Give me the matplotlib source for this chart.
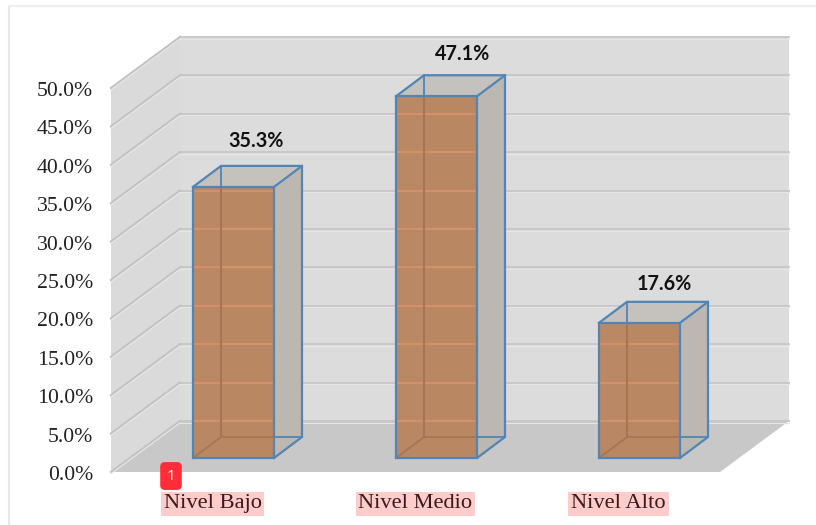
import matplotlib
matplotlib.use("Agg")
from matplotlib import pyplot as plt
from matplotlib.lines import Line2D
from matplotlib.patches import Polygon
from matplotlib.transforms import ScaledTranslation

categories = ["Nivel Bajo", "Nivel Medio", "Nivel Alto"]
values = [35.3, 47.1, 17.6]
y_ticks = [0, 5, 10, 15, 20, 25, 30, 35, 40, 45, 50]
y_labels = ["0.0%", "5.0%", "10.0%", "15.0%", "20.0%", "25.0%", "30.0%", "35.0%", "40.0%", "45.0%", "50.0%"]

W, H = 816, 525
# pixels per unit on the two axes
px_x = 203.0
px_y = 7.68


def dx(p):
    return p / px_x


def dy(p):
    return p / px_y


fig = plt.figure(figsize=(W / 100, H / 100), dpi=100)
# thin frame of the screenshot
fig.add_artist(Line2D([9 / W, 9 / W], [0, 1 - 6 / H], color="#e6e6e6", lw=1.5))
fig.add_artist(Line2D([9 / W, 1], [1 - 6 / H, 1 - 6 / H], color="#efefef", lw=1.5))

ax = fig.add_axes([111 / W, (H - 472) / H, 609 / W, 384 / H])
ax.set_xlim(-0.5, 2.5)
ax.set_ylim(0, 50)
for s in ax.spines.values():
    s.set_visible(False)
ax.patch.set_visible(False)

# depth of the box
ox, oy = dx(69), dy(51)
x0, x1 = -0.5, 2.5


def poly(pts, **kw):
    ax.add_patch(Polygon(pts, closed=True, clip_on=False, **kw))


# walls and floor
poly([(x0 + ox, oy), (x1 + ox, oy), (x1 + ox, 50 + oy), (x0 + ox, 50 + oy)], fc="#dcdcdc", ec="none", zorder=1)
poly([(x0, 0), (x0 + ox, oy), (x0 + ox, 50 + oy), (x0, 50)], fc="#dadada", ec="none", zorder=1)
poly([(x0, 0), (x1, 0), (x1 + ox, oy), (x0 + ox, oy)], fc="#c8c8c8", ec="none", zorder=2)

# gridlines
for t in y_ticks:
    ax.plot([x0 + ox, x1 + ox], [t + oy, t + oy], color="#c6c6c6", lw=1.3, clip_on=False, zorder=3)
    ax.plot([x0 + ox, x1 + ox], [t + oy - dy(1.5), t + oy - dy(1.5)], color="#e6e6e6", lw=0.8, clip_on=False, zorder=3)
    ax.plot([x0, x0 + ox], [t, t + oy], color="#c2c2c2", lw=1.6, clip_on=False, zorder=3)
    ax.plot([x0, x0 + ox], [t - dy(1.8), t + oy - dy(1.8)], color="#e8e8e8", lw=0.8, clip_on=False, zorder=3)

# bars
edge = "#5085b5"
base = dy(14)
l, r = dx(-19.5), dx(61.5)
bx, by = dx(28), dy(21)
# label offsets from the bar, in pixels
lab_x = [44, 47, 46]
lab_y = [46, 42, 39]
for i, v in enumerate(values):
    a, b = i + l, i + r
    top = base + v
    # back, floor and side faces
    poly([(a + bx, base + by), (b + bx, base + by), (b + bx, top + by), (a + bx, top + by)], fc="#bdb7b1", alpha=0.75, ec="none", zorder=4)
    poly([(a, base), (b, base), (b + bx, base + by), (a + bx, base + by)], fc="#bfbab5", ec="none", zorder=4)
    poly([(b, base), (b + bx, base + by), (b + bx, top + by), (b, top)], fc="#bdb7b1", alpha=0.9, ec="none", zorder=5)
    poly([(a, top), (b, top), (b + bx, top + by), (a + bx, top + by)], fc="#c5c1bc", ec="none", zorder=5)
    # hidden edges
    ax.plot([a + bx, a + bx], [base + by, top + by], color=edge, lw=1.3, clip_on=False, zorder=6)
    ax.plot([a, a + bx, b + bx], [base, base + by, base + by], color=edge, lw=1.3, clip_on=False, zorder=6)
    # front face
    poly([(a, base), (b, base), (b, top), (a, top)], fc="#b9855f", alpha=0.96, ec="none", zorder=7)
    for t in y_ticks:
        if base < t + oy < top:
            ax.plot([a, b], [t + oy, t + oy], color="#d8946a", lw=1.2, clip_on=False, zorder=8)
    ax.plot([a + bx, a + bx], [base + by, top], color="#a57554", lw=1.5, clip_on=False, zorder=8)
    ax.plot([a, a + bx], [base, base + by], color="#a57554", lw=1.2, clip_on=False, zorder=8)
    ax.plot([a + bx, b], [base + by, base + by], color="#a57554", lw=1.2, clip_on=False, zorder=8)
    # outline
    poly([(a, base), (b, base), (b, top), (a, top)], fc="none", ec=edge, lw=1.6, zorder=9)
    ax.plot([b, b + bx, b + bx, b], [base, base + by, top + by, top], color=edge, lw=1.6, clip_on=False, zorder=9)
    ax.plot([a, a + bx, b + bx], [top, top + by, top + by], color=edge, lw=1.6, clip_on=False, zorder=9)
    ax.text(i + dx(lab_x[i]), top + dy(lab_y[i]), f"{v}%", ha="center", va="center", family="Lato", weight="bold",
            fontsize=14.2, color="#111111", zorder=10)

ax.set_yticks(y_ticks)
ax.set_yticklabels(y_labels, family="Liberation Serif", fontsize=15.7, color="#222222", va="center_baseline")
ax.tick_params(axis="y", length=0, pad=13)
# nudge the y labels down a little
nudge = ScaledTranslation(0, -1 / 100, fig.dpi_scale_trans)
for lab in ax.get_yticklabels():
    lab.set_transform(lab.get_transform() + nudge)
ax.set_xticks(range(len(categories)))
ax.set_xticklabels(categories, family="Liberation Serif", fontsize=16.2, color="#3a1a1a",
                   bbox=dict(fc="#ffcccc", ec="none", pad=2))
ax.tick_params(axis="x", length=0, pad=16)

ax.text(dx(-41.5), dy(-4), "1", ha="center", va="center", family="Noto Sans", fontsize=11, color="white", zorder=12,
        bbox=dict(boxstyle="round,pad=0.42,rounding_size=0.3", fc="#ff2d38", ec="none"), clip_on=False)

fig.savefig("out.png", dpi=100)
